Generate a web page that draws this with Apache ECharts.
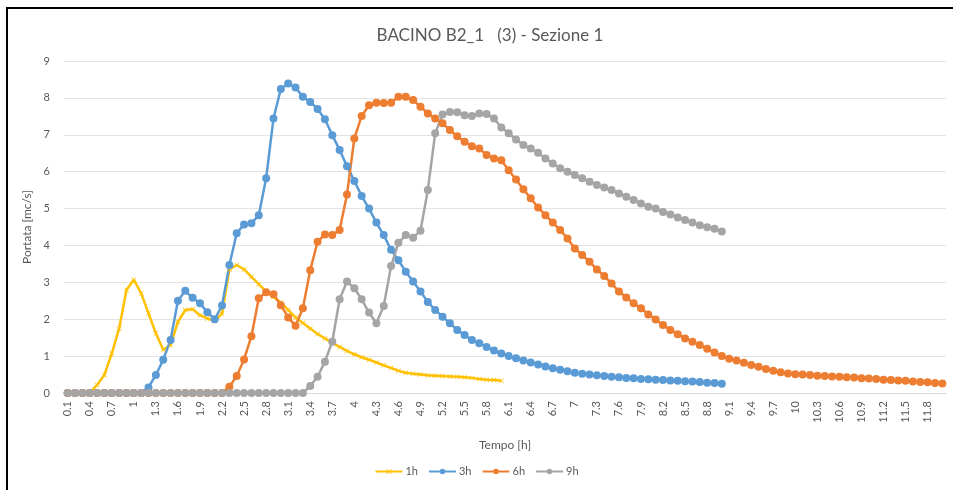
<!DOCTYPE html>
<html>
<head>
<meta charset="utf-8">
<script src="https://cdn.jsdelivr.net/npm/echarts@6/dist/echarts.min.js"></script>
<style>
  html, body { margin: 0; padding: 0; background: #fff; overflow: hidden; }
  .frame {
    position: absolute; left: 6px; top: 7px; width: 1000px; height: 600px;
    border-left: 2px solid #000; border-top: 2px solid #000;
  }
  #chart { position: absolute; left: 0; top: 0; width: 953px; height: 490px; }
</style>
</head>
<body>
<div class="frame"></div>
<div id="chart"></div>
<script>
// categorie (Tempo [h])
var tempo = [
  "0.1","0.2","0.3","0.4","0.5","0.6","0.7","0.8","0.9","1",
  "1.1","1.2","1.3","1.4","1.5","1.6","1.7","1.8","1.9","2",
  "2.1","2.2","2.3","2.4","2.5","2.6","2.7","2.8","2.9","3",
  "3.1","3.2","3.3","3.4","3.5","3.6","3.7","3.8","3.9","4",
  "4.1","4.2","4.3","4.4","4.5","4.6","4.7","4.8","4.9","5",
  "5.1","5.2","5.3","5.4","5.5","5.6","5.7","5.8","5.9","6",
  "6.1","6.2","6.3","6.4","6.5","6.6","6.7","6.8","6.9","7",
  "7.1","7.2","7.3","7.4","7.5","7.6","7.7","7.8","7.9","8",
  "8.1","8.2","8.3","8.4","8.5","8.6","8.7","8.8","8.9","9",
  "9.1","9.2","9.3","9.4","9.5","9.6","9.7","9.8","9.9","10",
  "10.1","10.2","10.3","10.4","10.5","10.6","10.7","10.8","10.9","11",
  "11.1","11.2","11.3","11.4","11.5","11.6","11.7","11.8","11.9","12"
];

// portata [mc/s]
var q1h = [
  0, 0, 0, 0, 0.22, 0.49, 1.07, 1.75, 2.79, 3.07,
  2.7, 2.16, 1.62, 1.17, 1.3, 1.93, 2.25, 2.27, 2.11, 2.02,
  1.95, 2.15, 3.35, 3.47, 3.35, 3.15, 2.95, 2.75, 2.6, 2.45,
  2.25, 2.05, 1.9, 1.75, 1.6, 1.48, 1.36, 1.25, 1.14, 1.05,
  0.97, 0.9, 0.83, 0.75, 0.68, 0.6, 0.55, 0.52, 0.5, 0.48,
  0.47, 0.46, 0.45, 0.44, 0.43, 0.41, 0.38, 0.36, 0.35, 0.33
];
var q3h = [
  0, 0, 0, 0, 0, 0, 0, 0, 0, 0,
  0, 0.15, 0.49, 0.9, 1.44, 2.5, 2.77, 2.58, 2.43, 2.19,
  2.0, 2.37, 3.47, 4.33, 4.57, 4.6, 4.82, 5.82, 7.44, 8.24,
  8.39, 8.28, 8.03, 7.89, 7.7, 7.42, 6.99, 6.59, 6.15, 5.75,
  5.34, 5.0, 4.62, 4.28, 3.88, 3.6, 3.29, 3.02, 2.75, 2.47,
  2.25, 2.07, 1.89, 1.71, 1.57, 1.44, 1.35, 1.25, 1.15, 1.07,
  1.0, 0.94, 0.88, 0.83, 0.77, 0.72, 0.67, 0.63, 0.59, 0.55,
  0.52, 0.5, 0.48, 0.46, 0.44, 0.43, 0.41, 0.4, 0.38, 0.37,
  0.36, 0.35, 0.34, 0.33, 0.32, 0.31, 0.3, 0.28, 0.27, 0.25
];
var q6h = [
  0, 0, 0, 0, 0, 0, 0, 0, 0, 0,
  0, 0, 0, 0, 0, 0, 0, 0, 0, 0,
  0, 0, 0.17, 0.46, 0.91, 1.54, 2.57, 2.73, 2.68, 2.38,
  2.05, 1.82, 2.3, 3.33, 4.1, 4.3, 4.28, 4.42, 5.38, 6.9,
  7.51, 7.8, 7.87, 7.86, 7.87, 8.03, 8.03, 7.94, 7.76, 7.58,
  7.44, 7.31, 7.13, 6.96, 6.81, 6.69, 6.63, 6.45, 6.36, 6.31,
  6.04, 5.79, 5.52, 5.28, 5.03, 4.82, 4.62, 4.42, 4.19, 3.92,
  3.74, 3.56, 3.35, 3.17, 2.97, 2.75, 2.59, 2.43, 2.3, 2.13,
  1.99, 1.84, 1.71, 1.59, 1.48, 1.39, 1.3, 1.2, 1.1, 1.0,
  0.93, 0.88, 0.82, 0.76, 0.71, 0.65, 0.6, 0.56, 0.53, 0.51,
  0.5, 0.49, 0.47, 0.46, 0.45, 0.44, 0.43, 0.42, 0.4, 0.39,
  0.38, 0.36, 0.35, 0.34, 0.33, 0.31, 0.3, 0.29, 0.27, 0.26
];
var q9h = [
  0, 0, 0, 0, 0, 0, 0, 0, 0, 0,
  0, 0, 0, 0, 0, 0, 0, 0, 0, 0,
  0, 0, 0, 0, 0, 0, 0, 0, 0, 0,
  0, 0, 0, 0.19, 0.44, 0.85, 1.39, 2.54, 3.02, 2.84,
  2.54, 2.18, 1.89, 2.36, 3.44, 4.07, 4.28, 4.21, 4.4, 5.5,
  7.04, 7.55, 7.62, 7.61, 7.53, 7.51, 7.58, 7.56, 7.44, 7.2,
  7.04, 6.87, 6.72, 6.63, 6.51, 6.36, 6.22, 6.09, 6.0, 5.91,
  5.82, 5.73, 5.64, 5.57, 5.5, 5.41, 5.32, 5.23, 5.14, 5.05,
  5.0, 4.91, 4.84, 4.76, 4.69, 4.62, 4.55, 4.49, 4.45, 4.38
];

var chart = echarts.init(document.getElementById("chart"));
var font = "Lato, 'Open Sans', sans-serif";
var crossSym = "path://M0,1L1,0L5,4L9,0L10,1L6,5L10,9L9,10L5,6L1,10L0,9L4,5Z";

function mkLine(name, data, color, symbol, size) {
  return {
    name: name,
    type: "line",
    data: data,
    symbol: symbol,
    symbolSize: size,
    showAllSymbol: true,
    lineStyle: { color: color, width: 2.5 },
    itemStyle: { color: color },
    emphasis: { disabled: true }
  };
}

var option = {
  animation: false,
  textStyle: { fontFamily: font },
  title: {
    text: "BACINO B2_1   (3) - Sezione 1",
    left: 485,
    textAlign: "center",
    top: 22,
    textStyle: { color: "#595959", fontSize: 17, fontWeight: "normal", fontFamily: font }
  },
  legend: {
    bottom: 8,
    left: "center",
    itemWidth: 27,
    itemHeight: 7,
    itemGap: 10,
    textStyle: { color: "#595959", fontSize: 11, padding: [0, 0, 0, -2] },
    data: ["1h", "3h", "6h", "9h"]
  },
  grid: { left: 64, right: 7, top: 61, bottom: 97, containLabel: false },
  xAxis: {
    type: "category",
    data: tempo,
    boundaryGap: true,
    name: "Tempo [h]",
    nameLocation: "middle",
    nameGap: 46,
    nameTextStyle: { color: "#595959", fontSize: 12 },
    axisLine: { lineStyle: { color: "#d9d9d9", width: 1 } },
    axisTick: { show: false },
    axisLabel: { interval: 2, rotate: 90, color: "#595959", fontSize: 11, margin: 8 }
  },
  yAxis: {
    type: "value",
    min: 0,
    max: 9,
    interval: 1,
    name: "Portata [mc/s]",
    nameLocation: "middle",
    nameGap: 30,
    nameTextStyle: { color: "#595959", fontSize: 12 },
    axisLine: { show: false },
    axisTick: { show: false },
    axisLabel: { color: "#595959", fontSize: 11, margin: 14 },
    splitLine: { lineStyle: { color: "#e3e3e3", width: 1 } }
  },
  series: [
    mkLine("1h", q1h, "#FFC000", crossSym, 5),
    mkLine("3h", q3h, "#5B9BD5", "circle", 8),
    mkLine("6h", q6h, "#ED7D31", "circle", 8),
    mkLine("9h", q9h, "#A5A5A5", "circle", 8)
  ]
};

chart.setOption(option);
</script>
</body>
</html>
